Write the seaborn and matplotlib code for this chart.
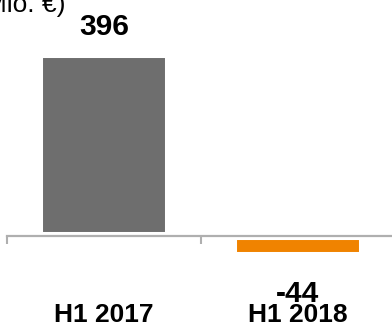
import matplotlib
matplotlib.use("Agg")
import matplotlib.pyplot as plt
import pandas as pd
import seaborn as sns

periods = ["H1 2017", "H1 2018"]
values = [396, -44]
bar_colors = ["#6E6E6E", "#F08300"]
unit_label = "(Mio. €)"

sns.set_style("white")
plt.rcParams["font.family"] = ["Liberation Sans", "DejaVu Sans"]

df = pd.DataFrame({"period": periods, "value": values})

fig = plt.figure(figsize=(3.92, 3.23), dpi=100)
ax = fig.add_axes([0.0191, 0.198, 0.9872, 0.6687])

sns.barplot(
    data=df, x="period", y="value", hue="period",
    palette=dict(zip(periods, bar_colors)), legend=False, saturation=1,
    width=0.672, edgecolor="white", linewidth=5.8, ax=ax,
)

ax.set_xlim(-0.5, 1.5)
ax.set_ylim(-50, 420)

# baseline with tick marks between categories
for side in ["top", "right", "left"]:
    ax.spines[side].set_visible(False)
ax.spines["bottom"].set_position(("data", 0))
ax.spines["bottom"].set_color("#AFAFAF")
ax.spines["bottom"].set_linewidth(1.6)
ax.set_yticks([])
ax.set_xticks([-0.5, 0.5, 1.5], minor=True)
ax.tick_params(axis="x", which="minor", bottom=True, length=6, width=1.5,
               color="#AFAFAF", direction="out")
ax.tick_params(axis="x", which="major", length=0)
ax.set_xticklabels([])
ax.set_xlabel("")
ax.set_ylabel("")

# category labels at the bottom
for i, p in enumerate(periods):
    ax.annotate(p, xy=(i, 1), xycoords=("data", "figure pixels"),
                ha="center", va="baseline", fontsize=19, fontweight="bold",
                color="black", annotation_clip=False)

# value labels
for i, v in enumerate(values):
    off = 13.7 if v >= 0 else -33.1
    ax.annotate(f"{v}", xy=(i, v), xytext=(0, off), textcoords="offset points",
                ha="center", va="baseline", fontsize=21.5, fontweight="bold",
                color="black", annotation_clip=False)

fig.text(65 / 392, 1 - 12 / 323, unit_label, ha="right", va="baseline",
         fontsize=19, color="black")

fig.savefig("out.png", dpi=100)
